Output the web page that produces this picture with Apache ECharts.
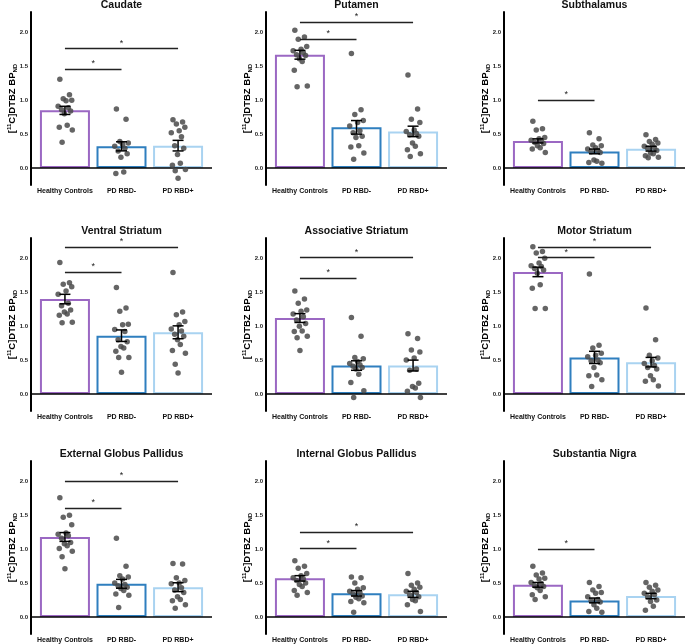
<!DOCTYPE html>
<html><head><meta charset="utf-8">
<script src="https://cdn.jsdelivr.net/npm/echarts@6/dist/echarts.min.js"></script>
<style>html,body{margin:0;padding:0;background:#fff}#c{width:685px;height:644px}</style>
</head><body><div id="c"></div>
<script>
// ---------- DATA ----------
const groups = ['Healthy Controls', 'PD RBD-', 'PD RBD+'];
const yTicks = [0, 0.5, 1, 1.5, 2];
const regions = ['Caudate', 'Putamen', 'Subthalamus',
  'Ventral Striatum', 'Associative Striatum', 'Motor Striatum',
  'External Globus Pallidus', 'Internal Globus Pallidus', 'Substantia Nigra'];

// bar heights (group means) per region: [HC, RBD-, RBD+]
const means = [
  [0.85, 0.32, 0.33],
  [1.67, 0.60, 0.54],
  [0.40, 0.245, 0.285],
  [1.40, 0.86, 0.91],
  [1.12, 0.42, 0.42],
  [1.80, 0.54, 0.47],
  [1.18, 0.49, 0.44],
  [0.57, 0.35, 0.335],
  [0.475, 0.245, 0.31]
];
// standard errors
const sems = [
  [0.06, 0.067, 0.078],
  [0.065, 0.10, 0.077],
  [0.03, 0.035, 0.035],
  [0.07, 0.085, 0.095],
  [0.065, 0.07, 0.08],
  [0.07, 0.09, 0.07],
  [0.065, 0.065, 0.065],
  [0.04, 0.04, 0.045],
  [0.035, 0.035, 0.04]
];
// significance brackets: [fromGroup, toGroup, height]
const sigLines = [
  [[0, 1, 1.46], [0, 2, 1.76]],
  [[0, 1, 1.90], [0, 2, 2.15]],
  [[0, 1, 1.00]],
  [[0, 1, 1.80], [0, 2, 2.16]],
  [[0, 1, 1.71], [0, 2, 2.01]],
  [[0, 1, 2.01], [0, 2, 2.17]],
  [[0, 1, 1.60], [0, 2, 2.00]],
  [[0, 1, 1.01], [0, 2, 1.25]],
  [[0, 1, 1.00]]
];
// individual subject values [HC, RBD-, RBD+]
const caudatePts = [
  [1.31, 1.08, 1.02, 1.00, 0.99, 0.91, 0.89, 0.86, 0.84, 0.80, 0.63, 0.60, 0.56, 0.38],
  [0.87, 0.72, 0.39, 0.37, 0.35, 0.32, 0.29, 0.25, 0.21, 0.16, -0.06, -0.08],
  [0.71, 0.68, 0.65, 0.60, 0.55, 0.52, 0.46, 0.33, 0.29, 0.20, 0.07, 0.04, -0.02, -0.04, -0.15]
];
const putamenPts = [
  [2.03, 1.93, 1.90, 1.79, 1.75, 1.73, 1.70, 1.67, 1.66, 1.61, 1.57, 1.44, 1.21, 1.20],
  [1.69, 0.86, 0.79, 0.70, 0.67, 0.62, 0.55, 0.52, 0.47, 0.45, 0.33, 0.31, 0.22, 0.13],
  [1.37, 0.87, 0.72, 0.67, 0.56, 0.54, 0.51, 0.49, 0.47, 0.37, 0.32, 0.27, 0.21, 0.17]
];
const subthalamusPts = [
  [0.69, 0.58, 0.56, 0.45, 0.43, 0.41, 0.40, 0.38, 0.36, 0.33, 0.30, 0.28, 0.23],
  [0.52, 0.43, 0.34, 0.33, 0.30, 0.28, 0.26, 0.24, 0.23, 0.12, 0.10, 0.08, 0.07],
  [0.49, 0.42, 0.39, 0.37, 0.35, 0.32, 0.30, 0.29, 0.26, 0.22, 0.21, 0.18, 0.16, 0.15]
];
const ventralPts = [
  [1.94, 1.64, 1.62, 1.58, 1.52, 1.47, 1.34, 1.30, 1.24, 1.21, 1.18, 1.16, 1.06, 1.05],
  [1.57, 1.27, 1.22, 1.03, 1.02, 0.95, 0.92, 0.80, 0.77, 0.70, 0.68, 0.63, 0.54, 0.54, 0.32],
  [1.79, 1.21, 1.17, 1.07, 1.02, 0.96, 0.93, 0.88, 0.85, 0.80, 0.73, 0.64, 0.60, 0.44, 0.31]
];
const associativePts = [
  [1.52, 1.40, 1.34, 1.24, 1.22, 1.18, 1.14, 1.09, 1.04, 1.00, 0.93, 0.92, 0.85, 0.83, 0.64],
  [1.13, 0.85, 0.54, 0.52, 0.48, 0.45, 0.43, 0.41, 0.39, 0.37, 0.29, 0.17, 0.05, -0.05],
  [0.89, 0.82, 0.65, 0.62, 0.53, 0.50, 0.37, 0.35, 0.16, 0.11, 0.09, 0.04, -0.05]
];
const motorPts = [
  [2.17, 2.10, 2.08, 2.00, 1.93, 1.89, 1.88, 1.85, 1.83, 1.78, 1.61, 1.56, 1.26, 1.26],
  [1.77, 0.72, 0.68, 0.60, 0.57, 0.55, 0.50, 0.49, 0.46, 0.39, 0.28, 0.27, 0.21, 0.11],
  [1.27, 0.80, 0.57, 0.53, 0.49, 0.45, 0.42, 0.39, 0.37, 0.27, 0.21, 0.19, 0.12]
];
const extGPPts = [
  [1.76, 1.50, 1.47, 1.36, 1.24, 1.22, 1.20, 1.16, 1.10, 1.08, 1.05, 1.01, 0.97, 0.89, 0.71],
  [1.16, 0.75, 0.61, 0.59, 0.56, 0.50, 0.48, 0.46, 0.44, 0.42, 0.39, 0.34, 0.32, 0.14],
  [0.79, 0.78, 0.58, 0.54, 0.50, 0.49, 0.43, 0.40, 0.36, 0.30, 0.26, 0.24, 0.18, 0.13]
];
const intGPPts = [
  [0.83, 0.75, 0.72, 0.64, 0.61, 0.58, 0.56, 0.54, 0.50, 0.48, 0.45, 0.39, 0.36, 0.32],
  [0.59, 0.58, 0.50, 0.43, 0.41, 0.38, 0.36, 0.34, 0.31, 0.29, 0.27, 0.23, 0.21, 0.07],
  [0.64, 0.50, 0.47, 0.44, 0.41, 0.38, 0.36, 0.33, 0.30, 0.26, 0.24, 0.18, 0.08]
];
const nigraPts = [
  [0.75, 0.65, 0.62, 0.57, 0.56, 0.51, 0.49, 0.46, 0.45, 0.43, 0.39, 0.33, 0.30, 0.26],
  [0.51, 0.45, 0.40, 0.36, 0.35, 0.30, 0.26, 0.24, 0.22, 0.18, 0.13, 0.08, 0.07],
  [0.51, 0.47, 0.44, 0.40, 0.38, 0.35, 0.33, 0.30, 0.25, 0.23, 0.16, 0.10]
];
const allPts = [caudatePts, putamenPts, subthalamusPts, ventralPts, associativePts,
  motorPts, extGPPts, intGPPts, nigraPts];

// ---------- LAYOUT / STYLE ----------
const groupColors = ['#9b68c3', '#2f7fbf', '#a9d3f1'];
const FONT = '"Liberation Sans", Arial, sans-serif';
const gridLefts = [31, 266, 504];
const gridTops = [12, 238, 461];
const GW = 181, GH = 173;
// horizontal jitter pattern (layout only)
const JIT = [-0.09, 0.08, -0.03, 0.12, 0.02, -0.12, 0.06, -0.06, 0.10, -0.01, 0.04, -0.10, 0.13, -0.05, 0.0];

const grids = [], xAxes = [], yAxes = [], series = [], titles = [];
regions.forEach((name, i) => {
  const r = Math.floor(i / 3), c = i % 3;
  const left = gridLefts[c], top = gridTops[r];
  grids.push({left: left, top: top, width: GW, height: GH, containLabel: false});
  titles.push({
    text: name, left: left + GW / 2, top: top - 12.5, textAlign: 'center', padding: 0,
    textStyle: {fontFamily: FONT, fontWeight: 'bold', fontSize: 10.5, color: '#111'}
  });
  xAxes.push({
    gridIndex: i, type: 'value', min: -0.6, max: 2.6,
    axisLine: {show: false}, axisTick: {show: false}, splitLine: {show: false},
    axisLabel: {
      customValues: [0, 1, 2], formatter: v => groups[Math.round(v)] || '',
      fontFamily: FONT, fontWeight: 'bold', fontSize: 7, color: '#111', margin: 3
    }
  });
  yAxes.push({
    gridIndex: i, type: 'value', min: -0.25, max: 2.3,
    axisLine: {show: true, onZero: false, lineStyle: {color: '#000', width: 2}},
    axisTick: {show: false}, splitLine: {show: false},
    axisLabel: {
      customValues: yTicks, formatter: v => v.toFixed(1),
      fontFamily: FONT, fontWeight: 'bold', fontSize: 6, color: '#222', margin: 3
    },
    name: '{a|[}{s|11}{a|C]DTBZ BP}{d|ND}', nameLocation: 'middle', nameGap: 13, nameRotate: 90,
    nameMoveOverlap: false,
    nameTextStyle: {
      fontFamily: FONT, fontWeight: 'bold', fontSize: 9.5, color: '#000', lineHeight: 12,
      rich: {
        a: {fontFamily: FONT, fontWeight: 'bold', fontSize: 9.5, color: '#000', lineHeight: 12},
        s: {fontFamily: FONT, fontWeight: 'bold', fontSize: 6, color: '#000', verticalAlign: 'top', lineHeight: 12},
        d: {fontFamily: FONT, fontWeight: 'bold', fontSize: 6, color: '#000', verticalAlign: 'bottom', lineHeight: 12}
      }
    }
  });
  // bars
  series.push({
    type: 'bar', xAxisIndex: i, yAxisIndex: i, barWidth: 50, z: 2,
    data: means[i].map((m, g) => ({
      value: [g, m],
      itemStyle: {color: '#fff', borderColor: groupColors[g], borderWidth: 2}
    })),
    markLine: {
      silent: true, symbol: ['none', 'none'], animation: false, z: 3,
      label: {show: false},
      lineStyle: {color: '#000', width: 1.5, type: 'solid'},
      data: [{yAxis: 0}]
    }
  });
  // individual points
  const pts = allPts[i];
  const sdata = [];
  pts.forEach((arr, g) => arr.forEach((v, k) => sdata.push([g + JIT[k % JIT.length], v])));
  series.push({
    type: 'scatter', xAxisIndex: i, yAxisIndex: i, z: 4,
    symbol: 'circle', symbolSize: 5.5,
    itemStyle: {color: '#4a4a4a', opacity: 0.85},
    data: sdata
  });
  // error bars + significance lines
  series.push({
    type: 'custom', xAxisIndex: i, yAxisIndex: i, z: 5,
    data: means[i].map((m, g) => [g, m, sems[i][g]]),
    encode: {x: 0, y: 1},
    renderItem: (params, api) => {
      const x = api.value(0), m = api.value(1), s = api.value(2);
      const p1 = api.coord([x, m + s]), p2 = api.coord([x, m - s]);
      const hw = 5.5;
      const st = {stroke: '#000', lineWidth: 1.5};
      return {type: 'group', children: [
        {type: 'line', shape: {x1: p1[0], y1: p1[1], x2: p2[0], y2: p2[1]}, style: st},
        {type: 'line', shape: {x1: p1[0] - hw, y1: p1[1], x2: p1[0] + hw, y2: p1[1]}, style: st},
        {type: 'line', shape: {x1: p2[0] - hw, y1: p2[1], x2: p2[0] + hw, y2: p2[1]}, style: st}
      ]};
    },
    markLine: {
      silent: true, symbol: ['none', 'none'], animation: false,
      lineStyle: {color: '#222', width: 1.4, type: 'solid'},
      label: {show: true, position: 'middle', formatter: '*', fontFamily: FONT, fontSize: 9, color: '#222', distance: 1},
      data: sigLines[i].map(s => [{coord: [s[0], s[2]]}, {coord: [s[1], s[2]]}])
    }
  });
});

const chart = echarts.init(document.getElementById('c'), null, {renderer: 'canvas'});
chart.setOption({
  animation: false,
  backgroundColor: '#fff',
  title: titles,
  grid: grids,
  xAxis: xAxes,
  yAxis: yAxes,
  series: series
});
</script>
</body></html>
